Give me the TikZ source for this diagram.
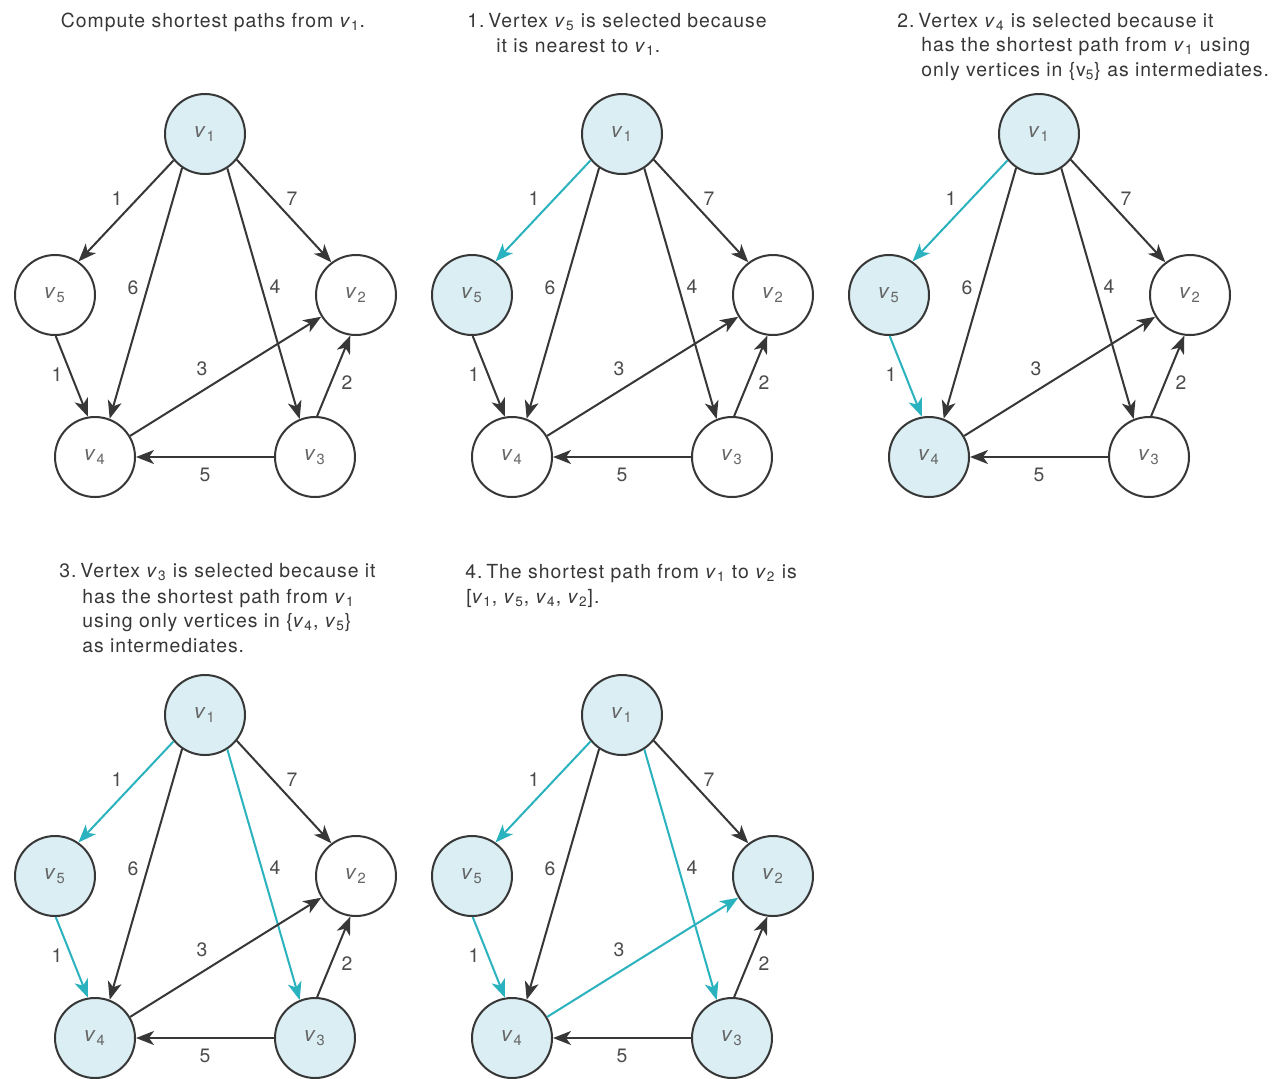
\documentclass[tikz,border=0pt]{standalone}
\usepackage{fontspec}
\setmainfont[LetterSpace=5]{TeX Gyre Heros}
\usetikzlibrary{arrows.meta}
\definecolor{hlfill}{RGB}{218,238,243}
\definecolor{hlline}{RGB}{42,178,190}
\definecolor{ink}{RGB}{55,55,55}
\newcommand\vsub[1]{\textit{v}\textsubscript{#1}}
\newcommand\num[1]{#1.\hspace{0.2em}}
\newcommand\setpanel[9]{\tikzset{f1/.style={#1},f2/.style={#2},f3/.style={#3},f4/.style={#4},f5/.style={#5},c15/.style={#6},c54/.style={#7},c13/.style={#8},c42/.style={#9}}}
\newcommand\graphpanel[3]{%
\begin{scope}[shift={(#2,#3)}]
\node[vertex,f1] (#1v1) at (205,134) {\vsub{1}};
\node[vertex,f2] (#1v2) at (356,295) {\vsub{2}};
\node[vertex,f3] (#1v3) at (315,457) {\vsub{3}};
\node[vertex,f4] (#1v4) at (95,457) {\vsub{4}};
\node[vertex,f5] (#1v5) at (55,295) {\vsub{5}};
\draw[edge,c15] (#1v1.220) -- (#1v5.55) node[lbl] (#1l15) at (117,199) {1};
\draw[edge] (#1v1.236) -- (#1v4.69) node[lbl] (#1l14) at (133,288) {6};
\draw[edge,c13] (#1v1.303) -- (#1v3.112) node[lbl] (#1l13) at (275,287) {4};
\draw[edge] (#1v1.321) -- (#1v2.127) node[lbl] (#1l12) at (292,199) {7};
\draw[edge,c54] (#1v5.271) -- (#1v4.100) node[lbl] (#1l54) at (57,375) {1};
\draw[edge,c42] (#1v4.31) -- (#1v2.212) node[lbl] (#1l42) at (202,369) {3};
\draw[edge] (#1v3.87) -- (#1v2.262) node[lbl] (#1l32) at (347,383) {2};
\draw[edge] (#1v3.180) -- (#1v4.0) node[lbl] (#1l34) at (205,475) {5};
\end{scope}}
\begin{document}
\begin{tikzpicture}[x=0.5pt,y=-0.5pt,
  font=\fontsize{9.7}{12.5}\selectfont,
  vertex/.style={circle,draw=ink,line width=1pt,minimum size=40pt,inner sep=0pt,text=black!60,fill=white,font=\fontsize{10.5}{12}\selectfont},
  on/.style={fill=hlfill},
  off/.style={},
  edge/.style={draw=ink,line width=1pt,-{Stealth[length=9pt,width=7pt,inset=2.5pt]}},
  hl/.style={draw=hlline},
  lbl/.style={text=black!70,inner sep=0pt},
  captxt/.style={anchor=base west,text=ink,inner sep=0pt}]
\useasboundingbox (0,0) rectangle (1275,1078);
\fill[white] (0,0) rectangle (1275,1078);
% panel 1
\setpanel{on}{off}{off}{off}{off}{off}{off}{off}{off}
\graphpanel{a}{0}{0}
\node[anchor=base,text=ink,inner sep=0pt] (ta1) at (213,27) {Compute shortest paths from \vsub{1}.};
% panel 2
\setpanel{on}{off}{off}{off}{on}{hl}{off}{off}{off}
\graphpanel{b}{417}{0}
\node[captxt] (tb1) at (467,27) {\num{1}Vertex \vsub{5} is selected because};
\node[captxt] (tb2) at (496,52) {it is nearest to \vsub{1}.};
% panel 3
\setpanel{on}{off}{off}{on}{on}{hl}{hl}{off}{off}
\graphpanel{c}{834}{0}
\node[captxt] (tc1) at (897,27) {\num{2}Vertex \vsub{4} is selected because it};
\node[captxt] (tc2) at (921,51.5) {has the shortest path from \vsub{1} using};
\node[captxt] (tc3) at (921,76) {only vertices in \{v\textsubscript{5}\} as intermediates.};
% panel 4
\setpanel{on}{off}{on}{on}{on}{hl}{hl}{hl}{off}
\graphpanel{d}{0}{581}
\node[captxt] (td1) at (59,577) {\num{3}Vertex \vsub{3} is selected because it};
\node[captxt] (td2) at (82,603) {has the shortest path from \vsub{1}};
\node[captxt] (td3) at (82,627) {using only vertices in \{\vsub{4}, \vsub{5}\}};
\node[captxt] (td4) at (82,652) {as intermediates.};
% panel 5
\setpanel{on}{on}{on}{on}{on}{hl}{hl}{hl}{hl}
\graphpanel{e}{417}{581}
\node[captxt] (te1) at (465,578) {\num{4}The shortest path from \vsub{1} to \vsub{2} is};
\node[captxt] (te2) at (466,603) {[\vsub{1}, \vsub{5}, \vsub{4}, \vsub{2}].};
\end{tikzpicture}
\end{document}
